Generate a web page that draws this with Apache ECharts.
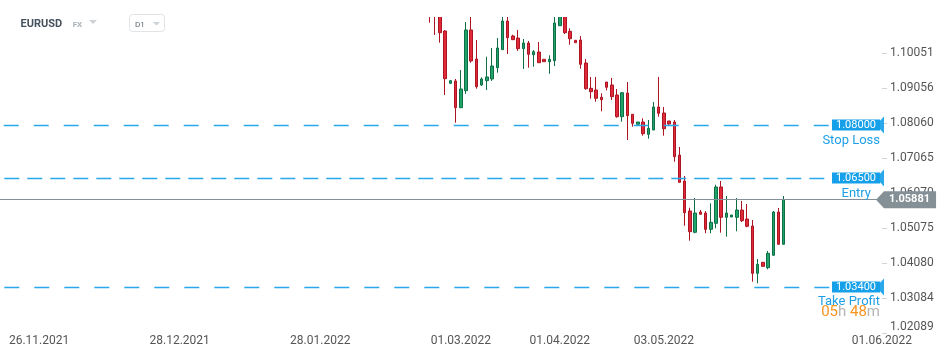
<!DOCTYPE html>
<html>
<head>
<meta charset="utf-8">
<script src="https://cdn.jsdelivr.net/npm/echarts@6/dist/echarts.min.js"></script>
<style>
html,body{margin:0;padding:0;background:#fff;}
#c{width:949px;height:358px;}
</style>
</head>
<body>
<div id="c"></div>
<script>
// ---------- data ----------
const instrument = 'EURUSD';
const market = 'FX';
const timeframe = 'D1';

// daily candles, oldest first
const opens = [1.1230,1.1215,1.1125,1.10675,1.09188,1.09254,1.08495,1.08978,1.10704,1.09879,
  1.09140,1.09262,1.09311,1.09632,1.10144,1.10959,1.10533,1.10476,1.10172,1.10334,
  1.10001,1.10078,1.09871,1.09802,1.09831,1.10826,1.1130,1.10667,1.10411,1.10419,
  1.09766,1.09046,1.08998,1.08791,1.09225,1.09140,1.08856,1.08239,1.08913,1.08307,
  1.08023,1.08088,1.07739,1.07861,1.08515,1.08344,1.08117,1.08088,1.07150,1.06411,
  1.05559,1.04953,1.05530,1.05502,1.05038,1.05209,1.06241,1.05380,1.05388,1.05380,
  1.05587,1.05331,1.05132,1.03788,1.04100,1.03947,1.04299,1.05530,1.04612];
const highs = [1.1245,1.1235,1.1150,1.10700,1.09282,1.09311,1.09567,1.10931,1.1120,1.10419,
  1.09359,1.09945,1.10192,1.10476,1.1115,1.1112,1.10570,1.10704,1.10448,1.10391,
  1.10135,1.10362,1.09871,1.09984,1.1112,1.1160,1.1150,1.10752,1.10411,1.10533,
  1.09879,1.09368,1.09368,1.08904,1.09225,1.09339,1.09026,1.08941,1.09225,1.08307,
  1.08088,1.08194,1.08145,1.08657,1.09368,1.08515,1.08117,1.08145,1.07378,1.06553,
  1.05652,1.05928,1.05587,1.05559,1.05777,1.06306,1.06411,1.05985,1.05445,1.05928,
  1.05843,1.05758,1.05303,1.04194,1.04100,1.04422,1.05559,1.05644,1.05985];
const lows = [1.10911,1.10561,1.10343,1.08856,1.09169,1.08069,1.08495,1.08884,1.09774,1.09035,
  1.09112,1.08998,1.09254,1.09490,1.10144,1.10021,1.10428,1.10107,1.09595,1.09632,
  1.09660,1.09774,1.09802,1.09461,1.09680,1.10826,1.10590,1.10286,1.10343,1.09603,
  1.09007,1.08751,1.08665,1.08393,1.08989,1.08714,1.08211,1.08097,1.07577,1.07955,
  1.08023,1.07699,1.07614,1.07861,1.08239,1.07699,1.07995,1.06960,1.06374,1.05141,
  1.04714,1.04925,1.05465,1.04925,1.04925,1.05067,1.04942,1.04828,1.05388,1.04982,
  1.05246,1.05095,1.03549,1.03503,1.03987,1.03901,1.04299,1.04612,1.04612];
const closes = [1.1190,1.1125,1.10627,1.09319,1.09262,1.08495,1.09026,1.10704,1.09822,1.09092,
  1.09311,1.09368,1.09680,1.10192,1.10959,1.10485,1.10428,1.10172,1.10334,1.10013,
  1.10087,1.09774,1.09802,1.09871,1.10903,1.1135,1.10627,1.10456,1.10343,1.09729,
  1.09035,1.08950,1.08762,1.08722,1.09075,1.08808,1.08239,1.08921,1.08268,1.08051,
  1.08088,1.07756,1.07909,1.08515,1.08336,1.07898,1.08032,1.07102,1.06374,1.05510,
  1.04970,1.05502,1.05465,1.05038,1.05237,1.06241,1.05380,1.05502,1.05445,1.05587,
  1.05283,1.05124,1.03788,1.04044,1.03987,1.04356,1.05530,1.04612,1.05881];

// time axis: slots (one per bar width), candles start at a slot
const slotCount = 169;
const firstCandleSlot = 82;
const xTickLabels = ['26.11.2021','28.12.2021','28.01.2022','01.03.2022','01.04.2022','03.05.2022','01.06.2022'];
const xTickSlots = [7, 34, 61, 88, 107, 127, 168];

// price axis
const yTickLabels = [1.02089,1.03084,1.04080,1.05075,1.06070,1.07065,1.08060,1.09056,1.10051];
const yMin = 1.02034;
const yMax = 1.11073;

// trade levels
const levelNames = ['Stop Loss','Entry','Take Profit'];
const levelValues = [1.08000, 1.06500, 1.03400];
const lastPrice = 1.05881;
const timeLeft = ['05', '48'];

// ---------- chart ----------
const FONT = 'Roboto';
const BLUE = '#1d9fe6';
const candleData = [];
for (let s = 0; s < slotCount; s++) candleData.push('-');
opens.forEach((o, i) => { candleData[firstCandleSlot + i] = [o, closes[i], lows[i], highs[i]]; });
const categories = [];
for (let s = 0; s < slotCount; s++) categories.push(String(s));

function levelFormatter(i) {
  const v = levelValues[i].toFixed(5);
  if (i === 2) {
    return '{gap2| }\n{box|' + v + '}\n{subT|' + levelNames[i] + '}\n{o|' + timeLeft[0] + '}{g|h }{o|' + timeLeft[1] + '}{g|m}';
  }
  if (i === 1) return '{gap| }\n{box|' + v + '}\n{subE|' + levelNames[i] + '}';
  return '{gap| }\n{box|' + v + '}\n{sub|' + levelNames[i] + '}';
}
const levelRich = {
  gap: {fontSize: 1, lineHeight: 20},
  gap2: {fontSize: 1, lineHeight: 22},
  box: {backgroundColor: '#17a0ea', color: '#fff', fontSize: 11, lineHeight: 11, padding: [0, 4], fontFamily: FONT},
  sub: {color: BLUE, fontSize: 13, lineHeight: 20, fontFamily: FONT},
  subE: {color: BLUE, fontSize: 13, lineHeight: 20, fontFamily: FONT, padding: [0, 9, 0, 0]},
  subT: {color: BLUE, fontSize: 13, lineHeight: 18, fontFamily: FONT},
  o: {color: '#f7931e', fontSize: 15, lineHeight: 4, fontFamily: FONT},
  g: {color: '#b4b4b4', fontSize: 15, lineHeight: 4, fontFamily: FONT}
};
const dashTypes = [[15, 15], [15, 8], [15, 15]];
const dashOffsets = [26.3, 18.7, 25.7];

const levelLines = levelValues.map((v, i) => ({
  yAxis: v,
  symbol: 'none',
  lineStyle: {color: '#2aa8ec', width: 1.3, type: dashTypes[i], dashOffset: dashOffsets[i]},
  label: {show: true, position: 'insideEnd', distance: 0, formatter: () => levelFormatter(i), rich: levelRich}
}));

const priceLine = {
  yAxis: lastPrice,
  lineStyle: {color: '#849096', width: 1, type: 'solid'},
  label: {
    show: true, position: 'end', distance: 4,
    formatter: () => lastPrice.toFixed(5),
    backgroundColor: '#849096', color: '#fff', fontWeight: 'bold', fontSize: 11, lineHeight: 11,
    fontFamily: FONT, padding: [3, 6, 3, 5]
  }
};

const chart = echarts.init(document.getElementById('c'), null, {renderer: 'canvas'});
chart.setOption({
  animation: false,
  backgroundColor: '#fff',
  grid: {left: -2, right: 69, top: 17, bottom: 23, containLabel: false},
  xAxis: {
    type: 'category',
    data: categories,
    boundaryGap: true,
    axisLine: {show: false},
    axisTick: {show: false},
    splitLine: {show: false},
    axisLabel: {
      interval: (index) => xTickSlots.indexOf(index) >= 0,
      formatter: (value, index) => {
        const j = xTickSlots.indexOf(index);
        if (j < 0) return '';
        return j === xTickSlots.length - 1 ? '{r|' + xTickLabels[j] + '}' : xTickLabels[j];
      },
      rich: {r: {padding: [0, 0, 0, 9], color: '#555', fontSize: 12, fontFamily: FONT}},
      color: '#555', fontSize: 12, fontFamily: FONT, margin: 0
    }
  },
  yAxis: {
    type: 'value',
    position: 'right',
    offset: 2,
    min: yMin,
    max: yMax,
    splitLine: {show: false},
    axisLine: {show: false},
    axisTick: {show: true, customValues: yTickLabels, length: 5, lineStyle: {color: '#cfd4d8'}},
    axisLabel: {
      customValues: yTickLabels,
      margin: 8,
      color: '#555', fontSize: 12, fontFamily: FONT,
      formatter: (v) => {
        const s = Number(v).toFixed(5);
        return Math.abs(v - yTickLabels[0]) < 1e-7 ? '{low|' + s + '}' : s;
      },
      rich: {low: {padding: [0, 0, 12, 0], color: '#555', fontSize: 12, fontFamily: FONT}}
    }
  },
  series: [{
    type: 'candlestick',
    data: candleData,
    barWidth: 3,
    itemStyle: {
      color: '#1ea46a', borderColor: '#0f6e45',
      color0: '#e02a3a', borderColor0: '#ad1522',
      borderWidth: 1
    },
    markLine: {
      silent: true,
      symbol: ['none', 'path://M0,0L10,0L5,8Z'],
      symbolSize: [17, 8],
      precision: 5,
      emphasis: {disabled: true},
      data: levelLines.concat([priceLine])
    }
  }],
  graphic: [
    {type: 'rect', z: 50, shape: {x: 0, y: -60, width: 949, height: 77}, style: {fill: '#fff'}},
    {type: 'text', z: 60, x: 20.5, y: 24, style: {text: instrument, font: 'bold 11px Roboto', fill: '#46535e', verticalAlign: 'middle'}},
    {type: 'text', z: 60, x: 72.7, y: 24.5, style: {text: market, font: 'bold 8px Roboto', fill: '#a9b3ba', verticalAlign: 'middle'}},
    {type: 'polygon', z: 60, shape: {points: [[89, 20], [97, 20], [93, 24]]}, style: {fill: '#cdd2d6'}},
    {type: 'rect', z: 60, shape: {x: 129.5, y: 14.5, width: 35, height: 17, r: 3}, style: {fill: '#fff', stroke: '#e1e4e7', lineWidth: 1}},
    {type: 'text', z: 60, x: 135, y: 24.5, style: {text: timeframe, font: '8px Roboto', fill: '#5c6670', verticalAlign: 'middle'}},
    {type: 'polygon', z: 60, shape: {points: [[153, 22], [160, 22], [156.5, 25.5]]}, style: {fill: '#cdd2d6'}}
  ]
});
</script>
</body>
</html>
